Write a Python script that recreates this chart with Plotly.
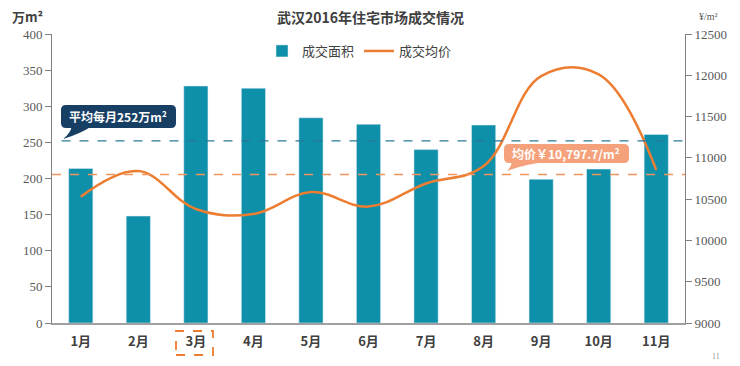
import plotly.graph_objects as go

months = ["1月", "2月", "3月", "4月", "5月", "6月", "7月", "8月", "9月", "10月", "11月"]
area = [214, 148, 328, 325, 284, 275, 240, 274, 199, 213, 261]
price = [10530, 10840, 10380, 10320, 10585, 10410, 10690, 10900, 11990, 12010, 10855]
avg_area = 252
avg_price = 10797.7
left_ticks = [0, 50, 100, 150, 200, 250, 300, 350, 400]
right_ticks = [9000, 9500, 10000, 10500, 11000, 11500, 12000, 12500]

# The page body has an 8px margin, so the figure is 8px smaller than the window
OFF = 8
W, H = 740 - OFF, 366 - OFF
L, R, T, B = 52, 685, 34, 323  # plot area in window pixels

def px(x):
    return (x - L) / (R - L)

def py(y):
    return (B - y) / (B - T)

def rounded(x0, y0, x1, y1, r):
    rx = r / (R - L)
    ry = r / (B - T)
    a, b, c, d = px(x0), py(y0), px(x1), py(y1)
    return (f"M {a+rx},{b} L {c-rx},{b} Q {c},{b} {c},{b-ry} L {c},{d+ry} Q {c},{d} {c-rx},{d} "
            f"L {a+rx},{d} Q {a},{d} {a},{d+ry} L {a},{b-ry} Q {a},{b} {a+rx},{b} Z")

def tail(p1, ctrl1, tip, ctrl2, p2):
    return (f"M {px(p1[0])},{py(p1[1])} Q {px(ctrl1[0])},{py(ctrl1[1])} {px(tip[0])},{py(tip[1])} "
            f"Q {px(ctrl2[0])},{py(ctrl2[1])} {px(p2[0])},{py(p2[1])} Z")

TEAL = "#0E8FAA"
ORANGE = "#ED7D31"
NAVY = "#173E63"
SALMON = "#F5A27C"

fig = go.Figure()
fig.add_trace(go.Bar(x=months, y=area, name="成交面积", marker_color=TEAL, width=0.42, yaxis="y"))
fig.add_trace(go.Scatter(x=months, y=price, name="成交均价", mode="lines", yaxis="y2",
                         line=dict(color=ORANGE, width=2.5, shape="spline", smoothing=1.1)))

shapes = [
    dict(type="line", xref="paper", yref="y", x0=0.015, x1=1, y0=avg_area, y1=avg_area,
         line=dict(color="#2C7A96", width=1.3, dash="dash"), layer="above"),
    dict(type="line", xref="paper", yref="y2", x0=0, x1=1, y0=avg_price, y1=avg_price,
         line=dict(color="#F0955E", width=1.6, dash="dash"), layer="above"),
    dict(type="path", xref="paper", yref="paper", path=rounded(61, 105, 176, 128, 5),
         fillcolor=NAVY, line=dict(width=0), layer="above"),
    dict(type="path", xref="paper", yref="paper",
         path=tail((72, 126), (70, 134), (63, 139), (80, 134), (92, 126)),
         fillcolor=NAVY, line=dict(width=0), layer="above"),
    dict(type="path", xref="paper", yref="paper", path=rounded(504, 144, 629, 163, 5),
         fillcolor=SALMON, line=dict(width=0), layer="above"),
    dict(type="path", xref="paper", yref="paper",
         path=tail((512, 162), (511, 167), (507, 171), (528, 163), (548, 162)),
         fillcolor=SALMON, line=dict(width=0), layer="above"),
    dict(type="rect", xref="paper", yref="paper", x0=px(176), x1=px(213), y0=py(355), y1=py(331),
         line=dict(color=ORANGE, width=1.8, dash="dash")),
]

def ann(text, x, y, size, color, family, xanchor="center"):
    return dict(text=text, xref="paper", yref="paper", x=px(x), y=py(y), xanchor=xanchor,
                yanchor="middle", showarrow=False,
                font=dict(size=size, color=color, family=family))

annotations = [
    ann("<b>武汉2016年住宅市场成交情况</b>", 370, 17, 14, "#404040", "Noto Sans CJK SC"),
    ann("<b>万m²</b>", 10, 17, 13, "#404040", "Noto Sans CJK SC", "left"),
    ann("¥/m²", 697, 17, 10, "#595959", "Liberation Serif", "left"),
    ann("<b>平均每月252万m²</b>", 118, 116.5, 12, "white", "Noto Sans CJK SC"),
    ann("<b>均价￥10,797.7/m²</b>", 566, 153.5, 12, "white", "Noto Sans CJK SC"),
    ann("11", 716, 356, 8, "#999999", "Liberation Serif"),
]

fig.update_layout(
    width=W, height=H,
    margin=dict(l=L - OFF, r=W - (R - OFF), t=T - OFF, b=H - (B - OFF)),
    paper_bgcolor="white", plot_bgcolor="white",
    showlegend=True,
    legend=dict(orientation="h", x=px(262), y=py(36), xanchor="left", yanchor="top",
                font=dict(size=13, color="#404040", family="Noto Sans CJK SC"),
                bgcolor="rgba(0,0,0,0)", itemwidth=30, tracegroupgap=0),
    xaxis=dict(type="category", showline=True, linecolor="#A0A0A0", linewidth=1.5, ticks="",
               showgrid=False, range=[-0.5, 10.5], automargin=False,
               tickfont=dict(size=13, color="#404040", family="Noto Sans CJK SC", weight="bold"),
               ticklabelstandoff=6),
    yaxis=dict(range=[0, 400], tickvals=left_ticks, showline=True, linecolor="#808080", linewidth=1,
               ticks="outside", ticklen=6, tickcolor="#808080", showgrid=False, zeroline=False,
               automargin=False, tickformat="d",
               tickfont=dict(size=13, color="#595959", family="Liberation Serif")),
    yaxis2=dict(range=[9000, 12500], tickvals=right_ticks, overlaying="y", side="right",
                showline=True, linecolor="#808080", linewidth=1, ticks="outside", ticklen=6,
                tickcolor="#808080", showgrid=False, zeroline=False, automargin=False,
                tickformat="d",
                tickfont=dict(size=13, color="#595959", family="Liberation Serif")),
    shapes=shapes,
    annotations=annotations,
    bargap=0.58,
)

fig.write_html("out.html")
